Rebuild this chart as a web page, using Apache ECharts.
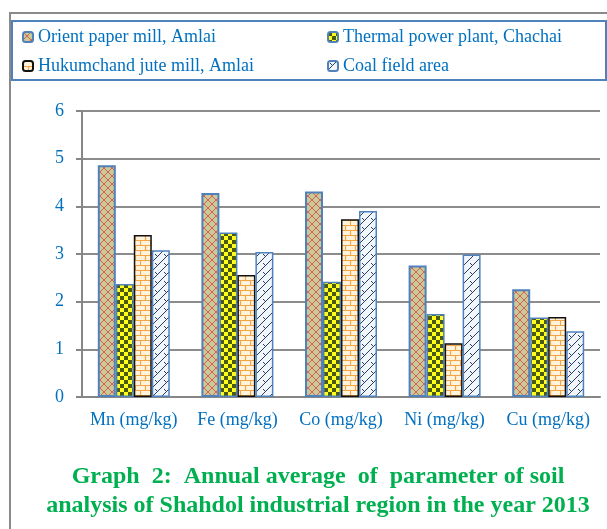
<!DOCTYPE html>
<html>
<head>
<meta charset="utf-8">
<script src="https://cdn.jsdelivr.net/npm/echarts@6/dist/echarts.min.js"></script>
<style>
  html, body { margin: 0; padding: 0; background: #fff; }
  #chart { width: 607px; height: 529px; }
</style>
</head>
<body>
<div id="chart"></div>
<script>
var categories = ["Mn (mg/kg)", "Fe (mg/kg)", "Co (mg/kg)", "Ni (mg/kg)", "Cu (mg/kg)"];
var seriesNames = [
  "Orient paper mill, Amlai",
  "Thermal power plant, Chachai",
  "Hukumchand jute mill, Amlai",
  "Coal field area"
];
var orientValues = [4.86, 4.28, 4.31, 2.76, 2.26];
var thermalValues = [2.37, 3.45, 2.42, 1.74, 1.67];
var hukumchandValues = [3.40, 2.56, 3.73, 1.13, 1.68];
var coalValues = [3.08, 3.04, 3.90, 2.99, 1.38];
var yTicks = [0, 6, 1]; // min, max, interval

function tile(w, h, draw) {
  var c = document.createElement("canvas");
  c.width = w;
  c.height = h;
  draw(c.getContext("2d"), w, h);
  return c;
}

// crosshatch: red diagonals on a sage/tan ground
var crossPattern = tile(8, 8, function (g, w, h) {
  g.fillStyle = "#c9c99c";
  g.fillRect(0, 0, w, h);
  g.strokeStyle = "#d8634a";
  g.lineWidth = 1;
  g.beginPath();
  g.moveTo(0, 0); g.lineTo(w, h);
  g.moveTo(w, 0); g.lineTo(0, h);
  g.stroke();
});

// checkerboard yellow / dark olive
var checkPattern = tile(8, 8, function (g, w, h) {
  g.fillStyle = "#ffff1a";
  g.fillRect(0, 0, w, h);
  g.fillStyle = "#4b5a12";
  g.fillRect(0, 0, 4, 4);
  g.fillRect(4, 4, 4, 4);
});

// brick: orange mortar on cream
var brickPattern = tile(10, 10, function (g, w, h) {
  g.fillStyle = "#fff3dc";
  g.fillRect(0, 0, w, h);
  g.strokeStyle = "#f2a447";
  g.lineWidth = 1.2;
  g.beginPath();
  g.moveTo(0, 0.5); g.lineTo(w, 0.5);
  g.moveTo(0, 5.5); g.lineTo(w, 5.5);
  g.moveTo(0.5, 0); g.lineTo(0.5, 5);
  g.moveTo(5.5, 5); g.lineTo(5.5, 10);
  g.stroke();
});

// diagonal zigzag: navy on pale blue
var zigPattern = tile(9, 9, function (g, w, h) {
  g.fillStyle = "#f1f6fb";
  g.fillRect(0, 0, w, h);
  g.strokeStyle = "#2a3b6a";
  g.lineWidth = 1;
  g.beginPath();
  g.moveTo(0, h); g.lineTo(w, 0);
  g.moveTo(2, 2); g.lineTo(5, 5);
  g.stroke();
});

function bar(name, data, pattern, border, bw) {
  return {
    name: name,
    type: "bar",
    data: data,
    barWidth: 18,
    barGap: "0%",
    itemStyle: {
      color: { image: pattern, repeat: "repeat" },
      borderColor: border,
      borderWidth: bw
    }
  };
}

// one legend per row; the first entry gets a fixed text width so the columns line up
function legendRow(top, names) {
  return {
    left: 22,
    top: top,
    orient: "horizontal",
    padding: 0,
    itemWidth: 10,
    itemHeight: 10,
    itemGap: 0,
    textStyle: {
      fontSize: 18,
      lineHeight: 20,
      color: "#0070c0",
      fontFamily: "Liberation Serif"
    },
    data: [
      { name: names[0], textStyle: { width: 289 } },
      { name: names[1] }
    ]
  };
}

var chart = echarts.init(document.getElementById("chart"));
chart.setOption({
  animation: false,
  backgroundColor: "#ffffff",
  textStyle: { fontFamily: "Liberation Serif" },
  title: {
    text: "Graph  2:  Annual average  of  parameter of soil\nanalysis of Shahdol industrial region in the year 2013",
    left: 313,
    top: 457,
    textAlign: "center",
    textStyle: {
      fontFamily: "Liberation Serif",
      fontWeight: "bold",
      fontSize: 24,
      lineHeight: 29,
      color: "#00b050"
    }
  },
  legend: [
    legendRow(27, seriesNames.slice(0, 2)),
    legendRow(56, seriesNames.slice(2, 4))
  ],
  grid: { left: 82, right: 7, top: 111, bottom: 132 },
  xAxis: {
    type: "category",
    data: categories,
    axisLine: { lineStyle: { color: "#868686", width: 2 } },
    axisTick: { show: false },
    axisLabel: { color: "#0070c0", fontSize: 18, margin: 14, interval: 0 }
  },
  yAxis: {
    type: "value",
    min: yTicks[0],
    max: yTicks[1],
    interval: yTicks[2],
    axisLine: { show: true, lineStyle: { color: "#868686", width: 2 } },
    axisTick: { show: true, length: 6, lineStyle: { color: "#868686", width: 2 } },
    axisLabel: { color: "#0070c0", fontSize: 18, margin: 18 },
    splitLine: { lineStyle: { color: "#8c8c8c", width: 2 } }
  },
  series: [
    bar(seriesNames[0], orientValues, crossPattern, "#4f81bd", 2),
    bar(seriesNames[1], thermalValues, checkPattern, "#4f81bd", 1.5),
    bar(seriesNames[2], hukumchandValues, brickPattern, "#111111", 1.5),
    bar(seriesNames[3], coalValues, zigPattern, "#4f81bd", 1.5)
  ],
  graphic: [
    {
      type: "polyline",
      silent: true,
      shape: { points: [[10, 529], [10, 13], [607, 13]] },
      style: { stroke: "#8a8a8a", lineWidth: 2, fill: null }
    },
    {
      type: "rect",
      silent: true,
      shape: { x: 12, y: 21, width: 594, height: 59 },
      style: { stroke: "#4f81bd", lineWidth: 2, fill: null }
    }
  ]
});
</script>
</body>
</html>
